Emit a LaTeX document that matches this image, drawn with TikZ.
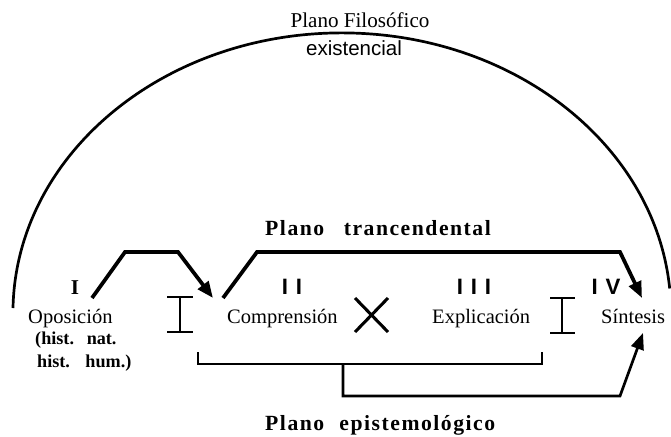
\documentclass[tikz,border=0pt]{standalone}
\usepackage{fontspec}
\setmainfont{Liberation Serif}
\setsansfont{Liberation Sans}
\newfontfamily\planofont[LetterSpace=7]{Liberation Serif}
\newfontfamily\numfont[LetterSpace=35]{Liberation Sans}
\usetikzlibrary{arrows.meta}

\begin{document}
\begin{tikzpicture}[x=0.03cm, y=0.03cm,
		term/.style={inner sep=0pt, anchor=base west, font=\fontsize{17.5}{20}\selectfont},
		hist/.style={inner sep=0pt, anchor=base west, font=\bfseries\fontsize{15.5}{17}\selectfont},
		numeral/.style={inner sep=0pt, anchor=base, font=\numfont\bfseries\fontsize{19}{20}\selectfont},
		plano/.style={inner sep=0pt, anchor=base west, font=\planofont\bfseries\fontsize{18.5}{20}\selectfont},
		flow/.style={line width=3.2pt, -{Triangle[length=14pt, width=11pt]}},
		bracket/.style={line width=1.9pt}]
	\useasboundingbox (0, 0) rectangle (671, -436);

	\node [inner sep=0pt, anchor=base, font=\fontsize{18}{20}\selectfont] (filo) at (360, -27) {Plano Filosófico};
	\node [inner sep=0pt, anchor=base, font=\sffamily\fontsize{17.5}{20}\selectfont] (exist) at (354, -55) {existencial};
	\coordinate (arcL) at (13, -308);
	\draw [line width=2.3pt] (arcL) arc [start angle=179, end angle=5, x radius=329, y radius=280] coordinate (arcR);

	\node [plano] (trasc) at (265, -235) {Plano\hspace{0.9em}trancendental};
	\node [plano] (episte) at (265, -430) {Plano\hspace{0.7em}epistemológico};

	\node [numeral, font=\bfseries\fontsize{18}{20}\selectfont] (numI) at (75, -294) {I};
	\node [numeral] (numII) at (292, -294) {II};
	\node [numeral] (numIII) at (474, -294) {III};
	\node [numeral] (numIV) at (606, -294) {IV};

	\node [term] (opos) at (28, -323) {Oposición};
	\node [hist] (histnat) at (35, -344) {(hist.\hspace{0.7em}nat.};
	\node [hist] (histhum) at (37, -367) {hist.\hspace{0.85em}hum.)};
	\node [term] (compr) at (227, -323) {Comprensión};
	\node [term] (expl) at (432, -323) {Explicación};
	\node [term] (sint) at (601, -323) {Síntesis};

	\coordinate (oposOut) at (92, -298);
	\coordinate (comprIn) at (213, -298);
	\coordinate (comprOut) at (223, -298);
	\coordinate (sintIn) at (642, -298);
	\coordinate (sintLow) at (643, -333);
	\draw [flow] (oposOut) -- (125, -252) -- (178, -252) -- (comprIn);
	\draw [flow] (comprOut) -- (257, -252) -- (620, -252) -- (sintIn);

	\draw [bracket] (167, -297) -- (193, -297) (180, -297) -- (180, -332) (167, -332) -- (193, -332);
	\draw [bracket] (550, -298) -- (575, -298) (562, -298) -- (562, -333) (550, -333) -- (575, -333);
	\draw [line width=2.6pt] (355, -298) -- (388, -332) (388, -298) -- (355, -332);

	\draw [bracket] (198, -352) -- (198, -364) coordinate (brL) -- (542, -364) coordinate (brR) -- (542, -352);
	\draw [flow, line width=2.3pt] (343, -364) -- (343, -396) -- (620, -396) -- (sintLow);
\end{tikzpicture}
\end{document}
